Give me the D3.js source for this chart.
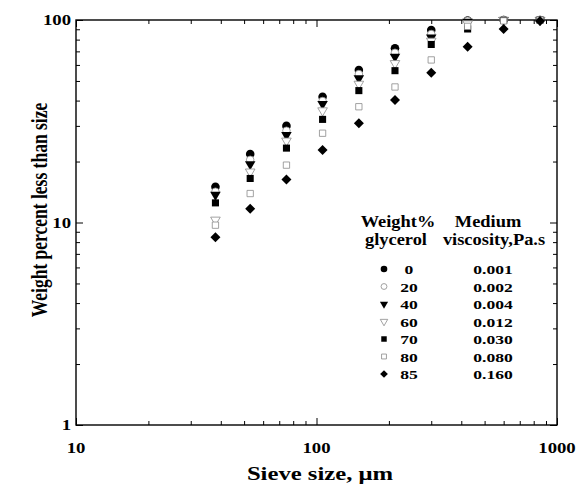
<!DOCTYPE html>
<html><head><meta charset="utf-8">
<script src="https://cdn.jsdelivr.net/npm/d3@7"></script>
<style>
html,body{margin:0;padding:0;background:#fff;}
text{font-family:"Liberation Serif","Times New Roman",serif;font-weight:bold;fill:#000;}
</style></head>
<body><svg id="c" width="577" height="490"></svg>
<script>
// ---- data ----
const sieveSizes = [38, 53, 75, 106, 150, 212, 300, 425, 600, 850];
const glycerol0  = [15.0, 21.8, 30.0, 41.8, 56.6, 72.5, 89.3, 99.5, 100, 100];
const glycerol20 = [14.2, 20.4, 28.4, 39.8, 54.1, 68.9, 85.3, 99.0, 100, 100];
const glycerol40 = [13.7, 19.4, 27.0, 38.5, 51.5, 65.9, 82.0, 98.0, 100, 100];
const glycerol60 = [10.3, 17.8, 25.3, 35.7, 48.3, 61.1, 78.8, 96.0, 100, 100];
const glycerol70 = [12.5, 16.5, 23.3, 32.3, 44.8, 56.2, 75.7, 90.3, 99.5, 100];
const glycerol80 = [9.7, 13.9, 19.2, 27.6, 37.3, 46.7, 63.5, 93.0, 99.0, 100];
const glycerol85 = [8.45, 11.7, 16.3, 22.8, 30.9, 40.3, 54.9, 73.7, 90.3, 99.0];
const seriesLabels = ["0", "20", "40", "60", "70", "80", "85"];
const viscosityLabels = ["0.001", "0.002", "0.004", "0.012", "0.030", "0.080", "0.160"];
const xTickLabels = ["10", "100", "1000"];
const yTickLabels = ["1", "10", "100"];

const seriesValues = [glycerol0, glycerol20, glycerol40, glycerol60, glycerol70, glycerol80, glycerol85];
const markerTypes = [
  {sym: d3.symbolCircle, size: 58, fill: "#000", stroke: "none"},
  {sym: d3.symbolCircle, size: 45, fill: "#fff", stroke: "#8a8a8a"},
  {sym: d3.symbolTriangle, size: 48, fill: "#000", stroke: "none", rot: 180},
  {sym: d3.symbolTriangle, size: 40, fill: "#fff", stroke: "#8a8a8a", rot: 180},
  {sym: d3.symbolSquare, size: 50, fill: "#000", stroke: "none"},
  {sym: d3.symbolSquare, size: 40, fill: "#fff", stroke: "#8a8a8a"},
  {sym: d3.symbolSquare, size: 50, fill: "#000", stroke: "none", rot: 45}
];

const svg = d3.select("#c");
const X0 = 76, X1 = 557, Y0 = 20, Y1 = 425;
const x = d3.scaleLog().domain([10, 1000]).range([X0, X1]);
const y = d3.scaleLog().domain([1, 100]).range([Y1, Y0]);
const SX = 1.25;

// ticks
const xMajor = [10, 100, 1000];
const xMinor = [20,30,40,50,60,70,80,90,200,300,400,500,600,700,800,900];
const yMajor = [1, 10, 100];
const yMinor = [2,3,4,5,6,7,8,9,20,30,40,50,60,70,80,90];

function ax(gen, vals, size, tx, ty) {
  const g = svg.append("g").attr("transform", `translate(${tx},${ty})`)
    .call(gen.tickValues(vals).tickSize(size).tickFormat(""));
  g.select(".domain").remove();
  g.selectAll("line").attr("stroke", "#000").attr("stroke-width", 1);
}
ax(d3.axisBottom(x), xMajor, -7, 0, Y1);
ax(d3.axisBottom(x), xMinor, -4, 0, Y1);
ax(d3.axisTop(x), xMajor, -7, 0, Y0);
ax(d3.axisTop(x), xMinor, -4, 0, Y0);
ax(d3.axisLeft(y), yMajor, -7, X0, 0);
ax(d3.axisLeft(y), yMinor, -4, X0, 0);
ax(d3.axisRight(y), yMajor, -7, X1, 0);
ax(d3.axisRight(y), yMinor, -4, X1, 0);

svg.append("rect").attr("x", X0).attr("y", Y0).attr("width", X1 - X0).attr("height", Y1 - Y0)
  .attr("fill", "none").attr("stroke", "#000").attr("stroke-width", 1.4);

function stext(str, px, py, size, anchor, sx) {
  svg.append("text").attr("transform", `translate(${px},${py}) scale(${sx || SX},1)`)
    .attr("text-anchor", anchor).attr("font-size", size).text(str);
}
xMajor.forEach((v, i) => stext(xTickLabels[i], x(v), 453, 15, "middle"));
yMajor.forEach((v, i) => stext(yTickLabels[i], 71, y(v) + 5, 15, "end"));

stext("Sieve size, \u03bcm", 320, 480, 19, "middle", 1.3);
svg.append("text").attr("transform", `translate(47,210) rotate(-90) scale(1,1.3)`)
  .attr("text-anchor", "middle").attr("font-size", 17.5).text("Weight percent less than size");

// points
seriesValues.forEach((vals, si) => {
  const m = markerTypes[si];
  svg.append("g").selectAll("path").data(vals).join("path")
    .attr("d", d3.symbol().type(m.sym).size(m.size))
    .attr("transform", (d, i) => `translate(${x(sieveSizes[i])},${y(d)}) rotate(${m.rot || 0})`)
    .attr("fill", m.fill).attr("stroke", m.stroke).attr("stroke-width", 0.8);
});

// legend
stext("Weight%", 398, 227, 16, "middle", 1.15);
stext("glycerol", 396, 245, 16, "middle", 1.15);
stext("Medium", 488, 227, 16, "middle", 1.15);
stext("viscosity,Pa.s", 494, 245, 16, "middle", 1.15);
seriesLabels.forEach((lab, i) => {
  const cy = 269 + i * 17.5;
  const m = markerTypes[i];
  svg.append("path").attr("d", d3.symbol().type(m.sym).size(m.size * 0.6))
    .attr("transform", `translate(384,${cy}) rotate(${m.rot || 0})`)
    .attr("fill", m.fill).attr("stroke", m.stroke).attr("stroke-width", 0.8);
  stext(lab, 409, cy + 5, 13.5, "middle", 1.3);
  stext(viscosityLabels[i], 493, cy + 5, 13.5, "middle", 1.3);
});
</script></body></html>
